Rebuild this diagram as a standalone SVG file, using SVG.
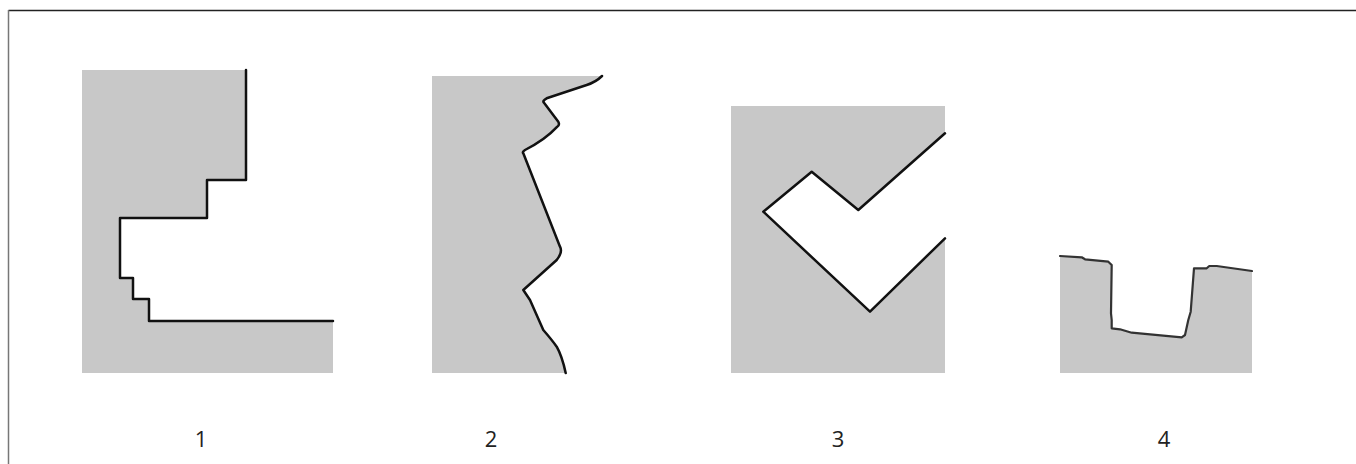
<svg xmlns="http://www.w3.org/2000/svg" width="1356" height="464" viewBox="0 0 1356 464">
<style>
.gray{fill:#c8c8c8;stroke:none}
.white{fill:#ffffff;stroke:none}
.edge{fill:none;stroke:#111;stroke-width:2.5;stroke-linejoin:round;stroke-linecap:round}
.edge4{fill:none;stroke:#333;stroke-width:2.2;stroke-linejoin:round;stroke-linecap:round}
.lbl{font-family:"Open Sans","Liberation Sans",sans-serif;font-size:22px;fill:#222;text-anchor:middle}
</style>
<rect x="0" y="0" width="1356" height="464" fill="#fff"/>
<g id="frame">
<line x1="8.5" y1="10.5" x2="1356" y2="10.5" stroke="#222" stroke-width="1.3"/>
<line x1="8.5" y1="10" x2="8.5" y2="464" stroke="#777" stroke-width="1.5"/>
</g>
<g id="panel1">
<rect class="gray" x="82" y="70" width="251" height="303"/>
<polygon class="white" points="246,70 333,70 333,321 149,321 149,299 133,299 133,278 120,278 120,218 207,218 207,180 246,180"/>
<polyline class="edge" points="246,70 246,180 207,180 207,218 120,218 120,278 133,278 133,299 149,299 149,321 333,321"/>
<text class="lbl" x="201" y="447">1</text>
</g>
<g id="panel2">
<path class="gray" d="M432,76 L602,76 Q596,82 586.7,85 L546.7,98.3 Q542,101 544,102.7 L558.3,121.7 Q560,125 557.3,126.7 Q545,140 525,150 Q522,152 523.3,153.3 L560,246.7 Q563,252 556.7,260 L523.3,290 L530,300 L543.3,330 Q552,340 556.7,346.7 Q562,356 565.7,373 L432,373 Z"/>
<path class="edge" d="M602,76 Q596,82 586.7,85 L546.7,98.3 Q542,101 544,102.7 L558.3,121.7 Q560,125 557.3,126.7 Q545,140 525,150 Q522,152 523.3,153.3 L560,246.7 Q563,252 556.7,260 L523.3,290 L530,300 L543.3,330 Q552,340 556.7,346.7 Q562,356 565.7,373"/>
<text class="lbl" x="491" y="447">2</text>
</g>
<g id="panel3">
<rect class="gray" x="731" y="106" width="214" height="267"/>
<polygon class="white" points="945,133.3 858.3,210 811.7,171.7 763.3,211.7 870,311.7 945,238.3"/>
<polyline class="edge" points="945,133.3 858.3,210 811.7,171.7 763.3,211.7 870,311.7 945,238.3"/>
<text class="lbl" x="838" y="447">3</text>
</g>
<g id="panel4">
<polygon class="gray" points="1060,256 1081.7,257.3 1085,259.3 1108.3,261.7 1111.7,265 1111,313.3 1111.7,320 1111.7,328.3 1120,329.3 1131.7,332.7 1181.7,337.3 1185,335 1188.3,320 1190.7,311.7 1194,268.3 1206.7,268.3 1209.3,266 1216.7,266 1252,271 1252,373 1060,373"/>
<polyline class="edge4" points="1060,256 1081.7,257.3 1085,259.3 1108.3,261.7 1111.7,265 1111,313.3 1111.7,320 1111.7,328.3 1120,329.3 1131.7,332.7 1181.7,337.3 1185,335 1188.3,320 1190.7,311.7 1194,268.3 1206.7,268.3 1209.3,266 1216.7,266 1252,271"/>
<text class="lbl" x="1164" y="447">4</text>
</g>
<g id="connectors"></g>
</svg>
